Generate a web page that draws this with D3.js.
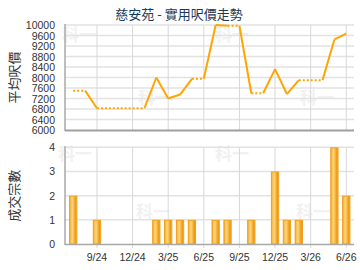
<!DOCTYPE html>
<html>
<head>
<meta charset="utf-8">
<script src="https://cdn.jsdelivr.net/npm/d3@7"></script>
<style>
  body { margin: 0; background: #fff; }
  svg { display: block; font-family: "Liberation Sans", Arial, sans-serif; }
  .tick-text { font-size: 10.5px; fill: #333; }
  .axis-title { font-family: "Noto Sans CJK TC", sans-serif; font-size: 13px; fill: #333; }
  .title { font-family: "Noto Sans CJK TC", sans-serif; font-size: 13px; fill: #1b3a5a; }
  .wm { font-family: "Noto Sans CJK TC", sans-serif; font-size: 17px; font-weight: bold; fill: #f1f1f1; }
</style>
</head>
<body>
<svg id="chart" width="360" height="270"></svg>
<script>
// ========= data =========
const months = ["7/24", "8/24", "9/24", "10/24", "11/24", "12/24", "1/25", "2/25", "3/25", "4/25", "5/25", "6/25",
    "7/25", "8/25", "9/25", "10/25", "11/25", "12/25", "1/26", "2/26", "3/26", "4/26", "5/26", "6/26"];

// average price per sq ft (carried forward on months with no deals)
const prices = [7500, 7500, 6830, 6830, 6830, 6830, 6830, 8000, 7200, 7350, 7950, 7950,
    10000, 9970, 9970, 7400, 7400, 8320, 7370, 7900, 7900, 7900, 9450, 9670];

// number of deals
const counts = [2, 0, 1, 0, 0, 0, 0, 1, 1, 1, 1, 0, 1, 1, 0, 1, 0, 3, 1, 1, 0, 0, 4, 2];

const tickMonths = ["9/24", "12/24", "3/25", "6/25", "9/25", "12/25", "3/26", "6/26"];
const priceTicks = [6000, 6400, 6800, 7200, 7600, 8000, 8400, 8800, 9200, 9600, 10000];
const countTicks = [0, 1, 2, 3, 4];

// ========= svg =========
const svg = d3.select("#chart");

const x = d3.scaleBand()
    .domain(months)
    .range([65.5, 354])
    .padding(0.3);

const xc = d => x(d) + x.bandwidth() / 2;

const yP = d3.scaleLinear().domain([6000, 10000]).range([130, 25]);
const yC = d3.scaleLinear().domain([0, 4]).range([244, 147.3]);

const plotLeft = 65, plotRight = 354;

// ========= bar gradient =========
const defs = svg.append("defs");
const grad = defs.append("linearGradient")
    .attr("id", "bar-grad")
    .attr("x1", "0%").attr("x2", "100%").attr("y1", "0%").attr("y2", "0%");
[
    [0, "#f3a51e"],
    [0.2, "#fcc65a"],
    [0.4, "#fdd27c"],
    [0.65, "#f6b23a"],
    [0.85, "#e99812"],
    [1, "#f5b23c"]
].forEach(([t, c]) => grad.append("stop").attr("offset", `${t * 100}%`).attr("stop-color", c));

// ========= title =========
svg.append("text")
    .attr("class", "title")
    .attr("x", 179)
    .attr("y", 19)
    .attr("text-anchor", "middle")
    .text("慈安苑 - 實用呎價走勢");

// ========= watermarks =========
[[62, 41], [138, 104], [215, 41], [300, 104], [58, 160], [136, 218], [215, 160], [296, 218]].forEach(([wx, wy]) => {
    svg.append("text").attr("class", "wm").attr("x", wx).attr("y", wy).text("科一");
});

// ========= top chart grid =========
const priceG = svg.append("g");

priceG.selectAll(".hgrid")
    .data(priceTicks.slice(1))
    .join("line")
    .attr("x1", plotLeft).attr("x2", plotRight)
    .attr("y1", d => yP(d)).attr("y2", d => yP(d))
    .attr("stroke", "#e2e2e2")
    .attr("stroke-width", 1.5);

priceG.selectAll(".vgrid")
    .data(tickMonths)
    .join("line")
    .attr("x1", d => xc(d)).attr("x2", d => xc(d))
    .attr("y1", yP(10000)).attr("y2", yP(6000))
    .attr("stroke", "#d8d8d8")
    .attr("stroke-width", 1);

priceG.selectAll(".ylab")
    .data(priceTicks)
    .join("text")
    .attr("class", "tick-text")
    .attr("x", 55)
    .attr("y", d => yP(d) + 4)
    .attr("text-anchor", "end")
    .text(d => d);

// axis lines
priceG.append("line")
    .attr("x1", plotLeft).attr("x2", plotLeft)
    .attr("y1", yP(10000) - 1).attr("y2", yP(6000) + 1)
    .attr("stroke", "#a8a8a8").attr("stroke-width", 1.5);
priceG.append("line")
    .attr("x1", plotLeft).attr("x2", plotRight)
    .attr("y1", yP(6000) + 0.5).attr("y2", yP(6000) + 0.5)
    .attr("stroke", "#a0a0a0").attr("stroke-width", 2);

// ========= price line =========
const segs = d3.range(1, months.length).map(i => ({
    a: i - 1,
    b: i,
    dotted: counts[i] === 0
}));

const line = d3.line().x(d => xc(months[d])).y(d => yP(prices[d]));

priceG.selectAll(".seg")
    .data(segs)
    .join("path")
    .attr("d", d => line([d.a, d.b]))
    .attr("fill", "none")
    .attr("stroke", "#ffa500")
    .attr("stroke-width", 2)
    .attr("stroke-linecap", "butt")
    .attr("stroke-dasharray", d => d.dotted ? "2,2" : null);

svg.append("text")
    .attr("class", "axis-title")
    .attr("transform", `translate(19,${(yP(10000) + yP(6000)) / 2}) rotate(-90)`)
    .attr("text-anchor", "middle")
    .text("平均呎價");

// ========= bottom chart =========
const countG = svg.append("g");

countG.selectAll(".hgrid")
    .data(countTicks.slice(1))
    .join("line")
    .attr("x1", plotLeft).attr("x2", plotRight)
    .attr("y1", d => yC(d)).attr("y2", d => yC(d))
    .attr("stroke", "#e2e2e2")
    .attr("stroke-width", 1.5);

countG.selectAll(".vgrid")
    .data(tickMonths)
    .join("line")
    .attr("x1", d => xc(d)).attr("x2", d => xc(d))
    .attr("y1", yC(4)).attr("y2", yC(0) + 4)
    .attr("stroke", "#d8d8d8")
    .attr("stroke-width", 1);

countG.selectAll(".bar")
    .data(months.map((m, i) => ({ m, v: counts[i] })).filter(d => d.v > 0))
    .join("rect")
    .attr("x", d => x(d.m) + 0.5)
    .attr("y", d => yC(d.v) + 0.5)
    .attr("width", x.bandwidth() - 1)
    .attr("height", d => yC(0) - yC(d.v) - 0.5)
    .attr("fill", "url(#bar-grad)")
    .attr("stroke", "#f0a01e")
    .attr("stroke-width", 1);

countG.selectAll(".ylab")
    .data(countTicks)
    .join("text")
    .attr("class", "tick-text")
    .attr("x", 55)
    .attr("y", d => yC(d) + 4)
    .attr("text-anchor", "end")
    .text(d => d);

countG.selectAll(".xlab")
    .data(tickMonths)
    .join("text")
    .attr("class", "tick-text")
    .attr("x", d => xc(d))
    .attr("y", 260.5)
    .attr("text-anchor", "middle")
    .text(d => d);

countG.append("line")
    .attr("x1", plotLeft).attr("x2", plotLeft)
    .attr("y1", yC(4) - 1).attr("y2", yC(0) + 1)
    .attr("stroke", "#a8a8a8").attr("stroke-width", 1.5);
countG.append("line")
    .attr("x1", plotLeft).attr("x2", plotRight)
    .attr("y1", yC(0) + 0.5).attr("y2", yC(0) + 0.5)
    .attr("stroke", "#a8a8a8").attr("stroke-width", 1.5);

svg.append("text")
    .attr("class", "axis-title")
    .attr("transform", `translate(19,${(yC(4) + yC(0)) / 2}) rotate(-90)`)
    .attr("text-anchor", "middle")
    .text("成交宗數");
</script>
</body>
</html>
